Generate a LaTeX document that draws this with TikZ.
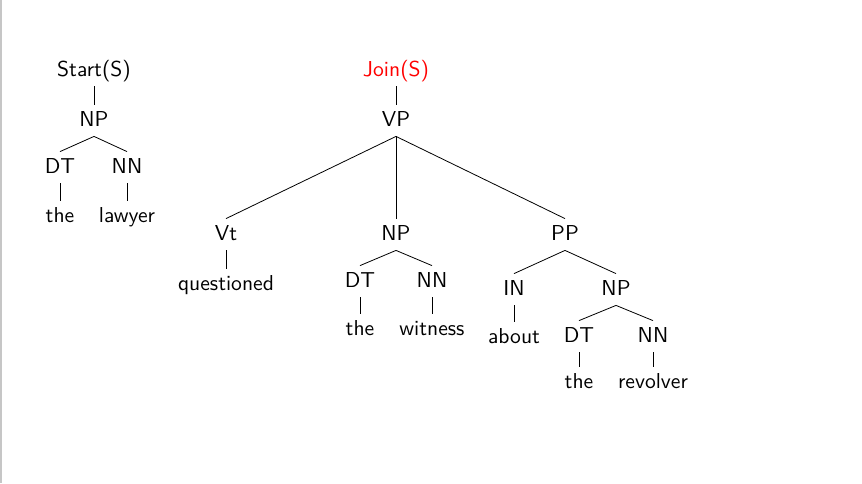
\documentclass[tikz,border=0pt]{standalone}
\usepackage{xcolor}

\begin{document}
\begin{tikzpicture}[x=0.5pt, y=-0.5pt,
    every node/.style={anchor=base, inner sep=2.5pt, text height=8pt, text depth=2.5pt,
        font=\sffamily\fontsize{10.8}{13}\selectfont}]
\useasboundingbox (0,0) rectangle (862,483);
\draw[gray!45, line width=1pt] (0.5,0) -- (0.5,483);
% left tree
\node at(94, 76)(start){Start(S)};
\node at(94, 126)(np1){NP};
\node at(60, 173)(dt1){DT};
\node at(127, 173)(nn1){NN};
\node at(60, 222)(the1){the};
\node at(127, 222)(lawyer){lawyer};
% right tree
\node[text=red] at(396, 76)(join){Join(S)};
\node at(396, 126)(vp){VP};
\node at(226, 240)(vt){Vt};
\node at(226, 290)(questioned){questioned};
\node at(396, 240)(np2){NP};
\node at(360, 287)(dt2){DT};
\node at(432, 287)(nn2){NN};
\node at(360, 335)(the2){the};
\node at(432, 335)(witness){witness};
\node at(565, 240)(pp){PP};
\node at(514, 295)(in){IN};
\node at(616, 295)(np3){NP};
\node at(514, 343)(about){about};
\node at(579, 342)(dt3){DT};
\node at(653, 342)(nn3){NN};
\node at(579, 388)(the3){the};
\node at(653, 388)(revolver){revolver};
\draw (start.south) -- (np1.north)
    (np1.south) edge (dt1.north) edge (nn1.north)
    (dt1.south) -- (the1.north)
    (nn1.south) -- (lawyer.north);
\draw (join.south) -- (vp.north)
    (vp.south) edge (vt.north) edge (np2.north) edge (pp.north)
    (vt.south) -- (questioned.north)
    (np2.south) edge (dt2.north) edge (nn2.north)
    (dt2.south) -- (the2.north)
    (nn2.south) -- (witness.north)
    (pp.south) edge (in.north) edge (np3.north)
    (in.south) -- (about.north)
    (np3.south) edge (dt3.north) edge (nn3.north)
    (dt3.south) -- (the3.north)
    (nn3.south) -- (revolver.north);
\end{tikzpicture}
\end{document}
